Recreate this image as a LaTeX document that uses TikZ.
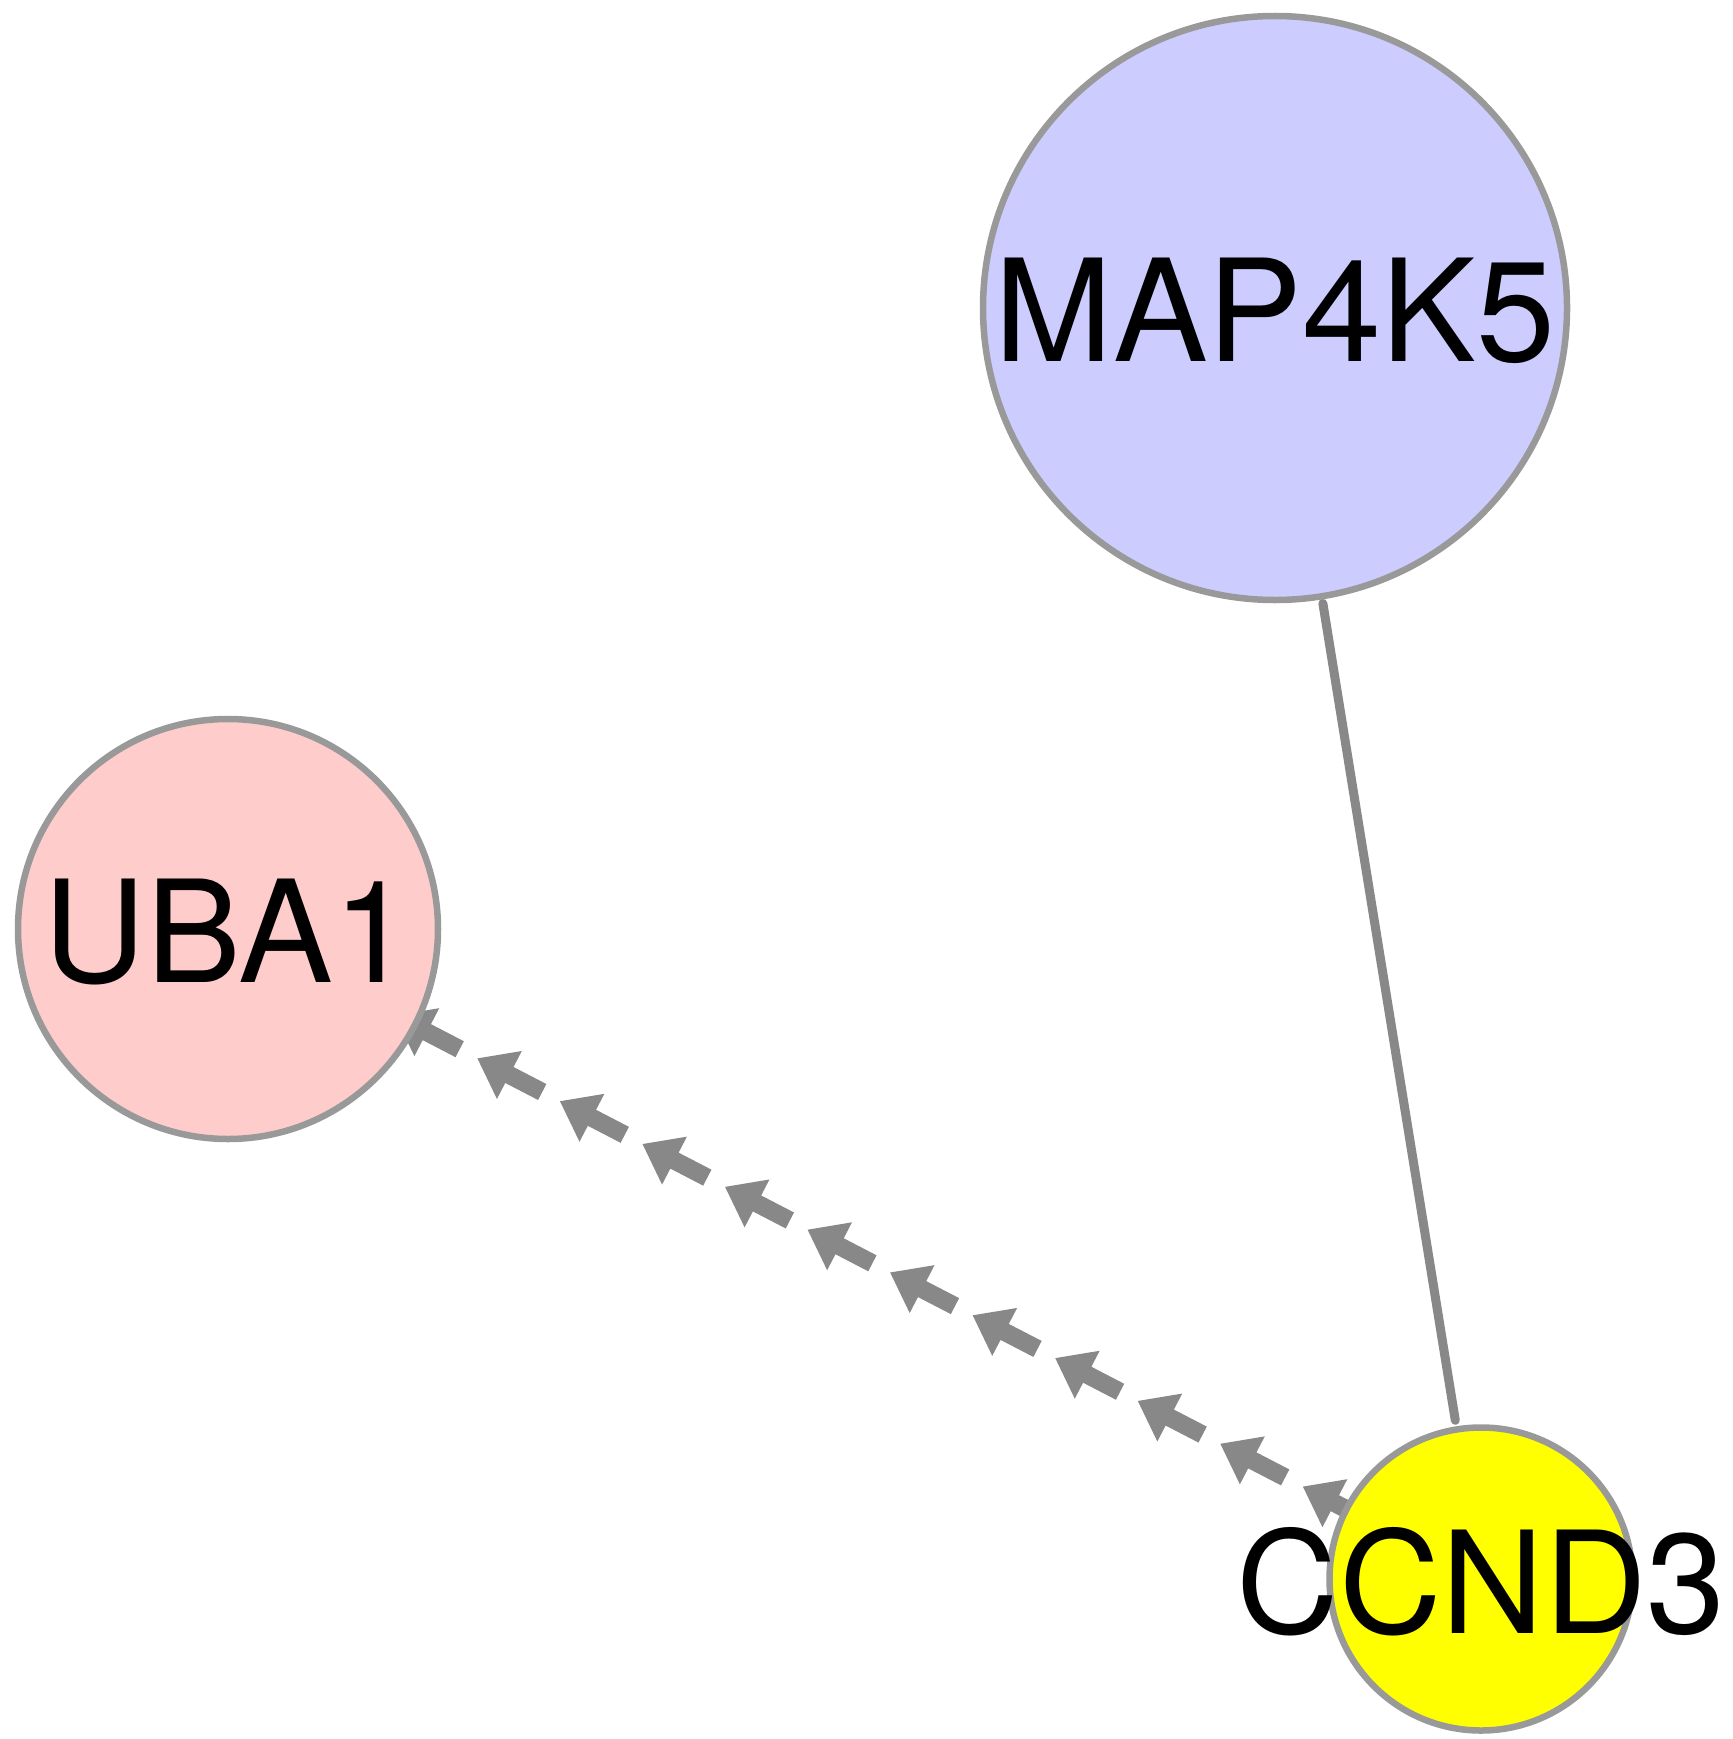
\documentclass[tikz,border=0pt]{standalone}
\usepackage{fontspec}
\setmainfont{TeX Gyre Heros}
\usepackage{xcolor}
\usepackage{tikz}
\usetikzlibrary{backgrounds}
\usetikzlibrary{decorations.markings}
\definecolor{bordergray}{HTML}{999999}
\definecolor{edgegray}{HTML}{888888}
\definecolor{mapblue}{HTML}{CCCCFF}
\definecolor{ubapink}{HTML}{FFCCCC}
\definecolor{ccndyellow}{HTML}{FFFF00}
\tikzset{
    gene/.style = {circle, draw=bordergray, line width=6.5pt, inner sep=0pt},
    gene_text/.style = {inner sep=0pt, yshift=-3pt, text=black, font=\fontsize{142pt}{164pt}\selectfont},
    plain_edge/.style = {draw=edgegray, line width=9pt, line cap=round},
    dash_arrow/.style = {decoration={markings,
        mark=between positions 188pt and 1300pt step 93pt with {
            \fill[edgegray] (0pt,0pt) -- (36pt,27pt) -- (36pt,9pt) -- (73pt,9pt)
                -- (73pt,-9pt) -- (36pt,-9pt) -- (36pt,-27pt) -- cycle;}},
        postaction=decorate}
}
\begin{document}
\begin{tikzpicture}[x=1pt, y=-1pt]
    \useasboundingbox (0,0) rectangle (1732,1739);
    \node [gene, fill=mapblue, minimum size=584pt, label={[gene_text]center:MAP4K5}] (map4k5) at (1275,308) {};
    \node [gene, fill=ubapink, minimum size=420pt, label={[gene_text]center:UBA1}] (uba1) at (228,929) {};
    \node [gene, fill=ccndyellow, minimum size=303pt, label={[gene_text]center:CCND3}] (ccnd3) at (1481,1579) {};
    \begin{scope}[on background layer]
        \draw [plain_edge, shorten <=4pt, shorten >=6pt] (map4k5) -- (ccnd3);
        \path [dash_arrow] (uba1.center) -- (ccnd3.center);
    \end{scope}
\end{tikzpicture}
\end{document}
